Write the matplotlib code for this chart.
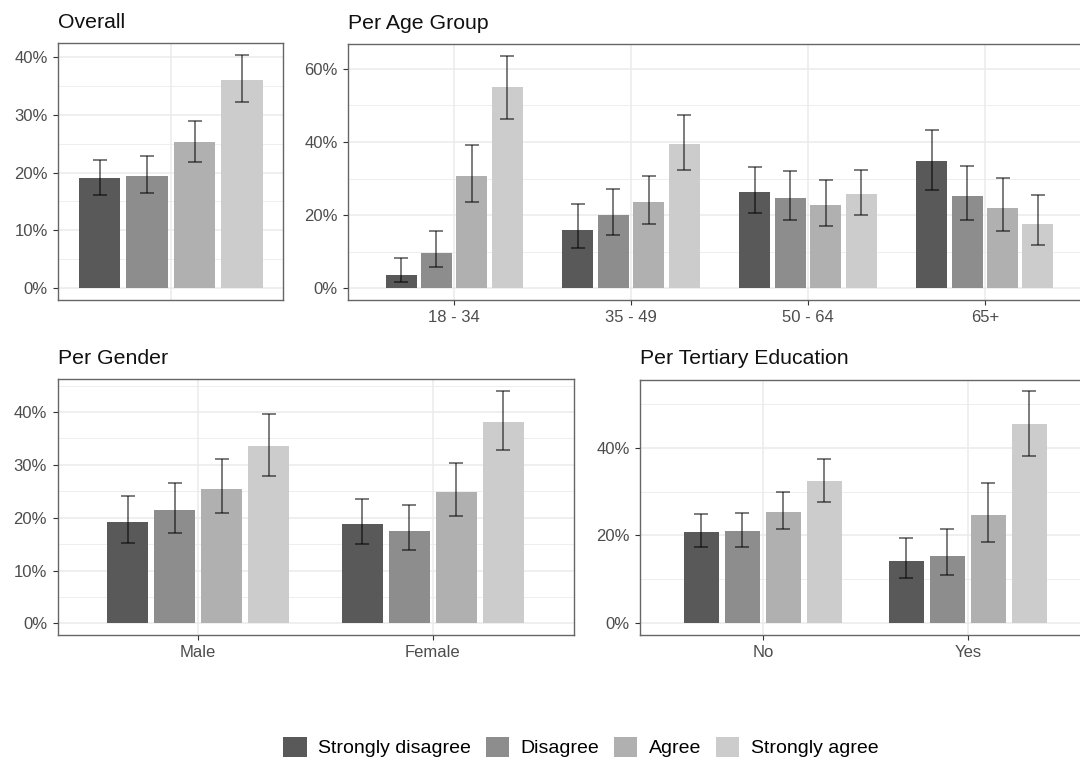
import numpy as np
import matplotlib
matplotlib.use("Agg")
import matplotlib.pyplot as plt
from matplotlib.patches import Patch
from matplotlib.ticker import PercentFormatter, MultipleLocator

plt.rcParams["font.family"] = ["Liberation Sans", "DejaVu Sans"]

# response levels and their grey fills
levels = ["Strongly disagree", "Disagree", "Agree", "Strongly agree"]
fills = ["#595959", "#8D8D8D", "#B0B0B0", "#CCCCCC"]

# overall shares (%) with confidence bounds
overall_mean = [19.0, 19.4, 25.2, 36.0]
overall_lo = [16.1, 16.4, 21.8, 32.1]
overall_hi = [22.2, 22.9, 28.9, 40.3]

# rows = response level, columns = group
age_groups = ["18 - 34", "35 - 49", "50 - 64", "65+"]
age_mean = [[3.7, 16.0, 26.4, 34.7], [9.7, 20.0, 24.8, 25.2],
            [30.7, 23.6, 22.8, 21.9], [54.9, 39.4, 25.7, 17.6]]
age_lo = [[1.8, 11.1, 20.5, 26.8], [5.8, 14.7, 18.7, 18.6],
          [23.6, 17.6, 17.0, 15.7], [46.2, 32.3, 20.0, 11.8]]
age_hi = [[8.3, 23.0, 33.2, 43.3], [15.8, 27.2, 32.1, 33.5],
          [39.3, 30.6, 29.7, 30.2], [63.6, 47.4, 32.3, 25.6]]

genders = ["Male", "Female"]
gender_mean = [[19.2, 18.9], [21.4, 17.5], [25.5, 24.9], [33.5, 38.2]]
gender_lo = [[15.2, 15.0], [17.1, 13.8], [20.8, 20.4], [27.9, 32.8]]
gender_hi = [[24.2, 23.5], [26.6, 22.4], [31.1, 30.4], [39.7, 44.0]]

tertiary = ["No", "Yes"]
tert_mean = [[20.7, 14.1], [21.0, 15.4], [25.3, 24.7], [32.5, 45.4]]
tert_lo = [[17.3, 10.3], [17.4, 11.0], [21.4, 18.6], [27.7, 38.0]]
tert_hi = [[25.0, 19.5], [25.2, 21.5], [29.9, 32.0], [37.5, 52.8]]


def panel(ax, title, cats, mean, lo, hi, step, xpad=0.6, show_x=True):
    mean, lo, hi = np.array(mean), np.array(lo), np.array(hi)
    x = np.arange(len(cats))
    dodge, width = 0.2, 0.175
    for i in range(len(levels)):
        xs = x + (i - 1.5) * dodge
        ax.bar(xs, mean[i], width=width, color=fills[i], zorder=2)
        ax.errorbar(xs, mean[i], yerr=[mean[i] - lo[i], hi[i] - mean[i]],
                    fmt="none", ecolor="black", alpha=0.6, elinewidth=1.2,
                    capsize=4.7, capthick=1.2, zorder=3)

    top = hi.max()
    ax.set_ylim(-0.05 * top, 1.05 * top)
    ax.set_xlim(-xpad, len(cats) - 1 + xpad)
    ax.yaxis.set_major_locator(MultipleLocator(step))
    ax.yaxis.set_minor_locator(MultipleLocator(step / 2))
    ax.yaxis.set_major_formatter(PercentFormatter(decimals=0))
    ax.set_xticks(x)
    ax.set_xticklabels(cats if show_x else [])

    ax.grid(which="major", color="#EBEBEB", lw=1.1, zorder=0)
    ax.grid(which="minor", axis="y", color="#EBEBEB", lw=0.6, zorder=0)
    ax.set_axisbelow(True)
    ax.tick_params(axis="both", which="major", labelsize=12,
                   labelcolor="#4D4D4D", color="#333333", length=3.5, width=0.8)
    ax.tick_params(axis="y", which="major", pad=4)
    ax.tick_params(axis="y", which="minor", length=0)
    if not show_x:
        ax.tick_params(axis="x", length=0)
    for s in ax.spines.values():
        s.set_color("#666666")
        s.set_linewidth(1.0)
    ax.set_title(title, loc="left", fontsize=15.3, color="#111111", pad=11)


fig = plt.figure(figsize=(10.8, 7.6), dpi=100)

ax1 = fig.add_axes([58.3 / 1080, 460 / 760, 225 / 1080, 256.7 / 760])
panel(ax1, "Overall", [""], np.array(overall_mean)[:, None],
      np.array(overall_lo)[:, None], np.array(overall_hi)[:, None],
      10, xpad=0.474, show_x=False)

ax2 = fig.add_axes([348 / 1080, 460 / 760, 743 / 1080, 256 / 760])
panel(ax2, "Per Age Group", age_groups, age_mean, age_lo, age_hi, 20)

ax3 = fig.add_axes([57.5 / 1080, 125 / 760, 516 / 1080, 255.7 / 760])
panel(ax3, "Per Gender", genders, gender_mean, gender_lo, gender_hi, 10)

ax4 = fig.add_axes([640 / 1080, 125 / 760, 451 / 1080, 255.3 / 760])
panel(ax4, "Per Tertiary Education", tertiary, tert_mean, tert_lo, tert_hi, 20)

handles = [Patch(facecolor=c, edgecolor="none") for c in fills]
fig.legend(handles, levels, loc="center", bbox_to_anchor=(581 / 1080, 13 / 760),
           ncol=4, frameon=False, fontsize=14, handlelength=1.2, handleheight=1.2,
           handletextpad=0.6, columnspacing=0.75, borderpad=0)

fig.savefig("out.png", dpi=100, facecolor="white")
